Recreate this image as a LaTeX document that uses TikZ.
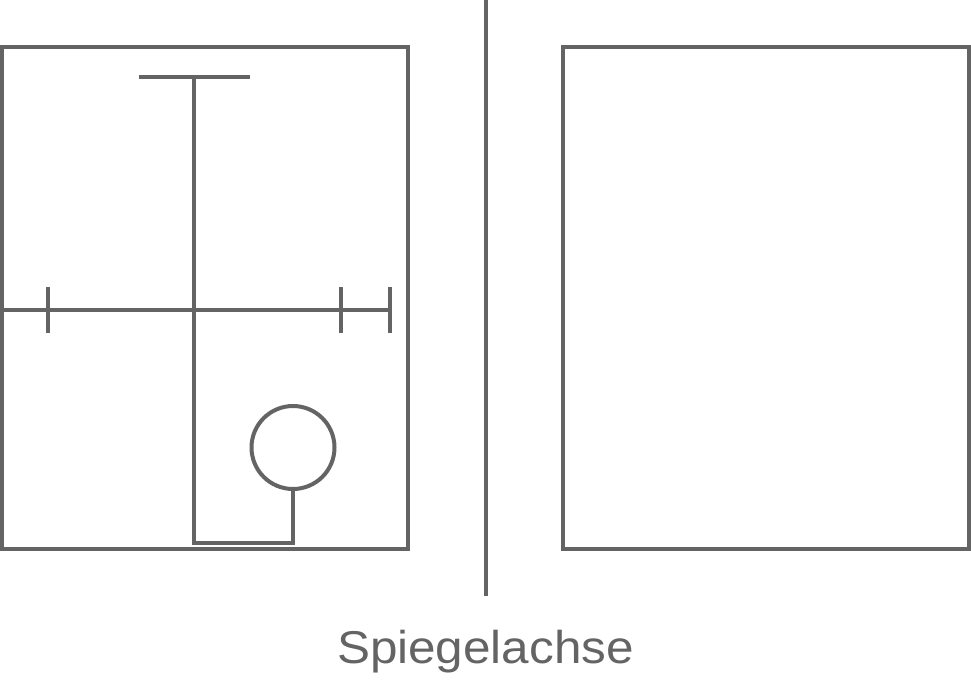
\documentclass[tikz,border=0pt]{standalone}
\usepackage{fontspec}
\setmainfont{Liberation Sans}
\definecolor{ink}{HTML}{646464}
\begin{document}
\begin{tikzpicture}[x=1pt,y=-1pt,
  stroke/.style={draw=ink,line width=4pt},
  label/.style={text=ink,font=\fontsize{46}{50}\selectfont,inner sep=0pt,anchor=base}]
\useasboundingbox (0,0) rectangle (971,681);
% left panel
\draw[stroke] (2,47) rectangle (408,549);
% right panel
\draw[stroke] (563,47) rectangle (969,549);
% mirror axis
\draw[stroke] (485.5,0) -- (485.5,596);
% figure
\draw[stroke] (139,76.5) -- (250,76.5);
\draw[stroke] (194,76.5) -- (194,543) -- (293,543) -- (293,489);
\draw[stroke] (2,310) -- (390,310);
\draw[stroke] (48,287) -- (48,333);
\draw[stroke] (341,287) -- (341,333);
\draw[stroke] (390,287) -- (390,333);
\draw[stroke] (293,447.5) circle (41.5);
\node[label] (axislabel) at (485.5,663) {\scalebox{1.075}[1]{Spiegelachse}};
\end{tikzpicture}
\end{document}
